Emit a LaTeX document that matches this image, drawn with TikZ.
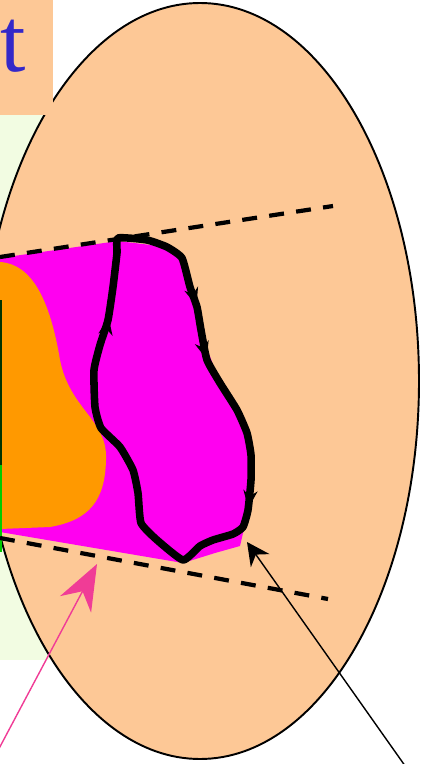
\documentclass[tikz,border=0pt]{standalone}
\usepackage{fontspec}
\setmainfont{Liberation Serif}
\usetikzlibrary{arrows.meta,decorations.markings}

\definecolor{peach}{RGB}{253,200,150}
\definecolor{paleleaf}{RGB}{242,252,226}
\definecolor{fluxpink}{RGB}{255,0,240}
\definecolor{bloborange}{RGB}{255,153,0}
\definecolor{pointpink}{RGB}{240,60,150}
\definecolor{titleblue}{RGB}{52,40,200}

\begin{document}
\begin{tikzpicture}[x=0.02cm,y=-0.02cm,line join=round,
    rim/.style={line width=1.1pt},
    dashline/.style={dashed,dash pattern=on 8.5pt off 7pt,line width=2.4pt},
    loopline/.style={line width=4.3pt},
    pointer/.style={line width=.8pt},
    looptip/.style={decoration={markings,
      mark=at position .115 with {\arrow{Stealth[length=10pt,width=8pt]}},
      mark=at position .185 with {\arrow{Stealth[length=10pt,width=8pt]}},
      mark=at position .39 with {\arrow{Stealth[length=10pt,width=8pt]}},
      mark=at position .86 with {\arrow{Stealth[length=10pt,width=8pt]}}},
      postaction={decorate}}]
    \useasboundingbox (0,0) rectangle (438,764);
    \clip (0,0) rectangle (438,764);

    % Backgrounds cut off at the left.
    \fill[paleleaf] (0,115) rectangle (50,660);
    \fill[peach,draw=black,rim] (200,381) ellipse (219 and 378);
    \fill[peach] (0,0) rectangle (53,115);
    \node[text=titleblue,font=\fontsize{52}{52}\selectfont,inner sep=0pt,
      anchor=base west] (title) at (0,71) {t};

    % The magenta patch between the two dashed lines.
    \fill[fluxpink] (0,258) -- (118,241) -- (167,247) -- (182,258)
      -- (200,330) -- (220,383) -- (247,433) -- (252,480) -- (248,512)
      -- (240,546) -- (215,553) -- (183,563) -- (0,532) -- cycle;
    \fill[bloborange] (0,262) .. controls (32,264) and (50,300) .. (60,360)
      .. controls (70,410) and (108,420) .. (106,460)
      .. controls (105,500) and (90,520) .. (50,527) -- (0,529) -- cycle;
    \draw[green!80!black,line width=1.6pt] (1,465) -- (1,552);
    \draw[black!80!green,line width=1.4pt] (1,300) -- (1,465);

    % The closed loop with its arrows.
    \draw[loopline,looptip] plot[smooth cycle,tension=.3] coordinates {
      (118,238) (147,240) (167,247) (182,258) (190,287) (197,307)
      (201,330) (207,360) (220,383) (237,410) (247,433) (251,455)
      (251,480) (248,510) (243,527) (233,534) (213,540) (200,546)
      (183,560) (157,540) (141,523) (138,493) (133,470) (120,447)
      (101,428) (95,407) (94,370) (100,345) (108,320) (113,287)
      (117,253)};

    % Dashed edges of the tube.
    \coordinate (upleft) at (0,257);
    \coordinate (upright) at (333,206);
    \coordinate (lowleft) at (0,538);
    \coordinate (lowright) at (328,599);
    \draw[dashline] (upleft) -- (upright);
    \draw[dashline] (lowleft) -- (lowright);

    % Pointers from below.
    \coordinate (pinktail) at (-6,758);
    \coordinate (pinktip) at (97,564);
    \draw[pointer,pointpink,-{Stealth[length=26pt,width=20pt]}]
      (pinktail) -- (pinktip);
    \coordinate (blacktail) at (408,770);
    \coordinate (blacktip) at (247,542);
    \draw[pointer,-{Stealth[length=13pt,width=13pt]}] (blacktail) -- (blacktip);
  \end{tikzpicture}
\end{document}
